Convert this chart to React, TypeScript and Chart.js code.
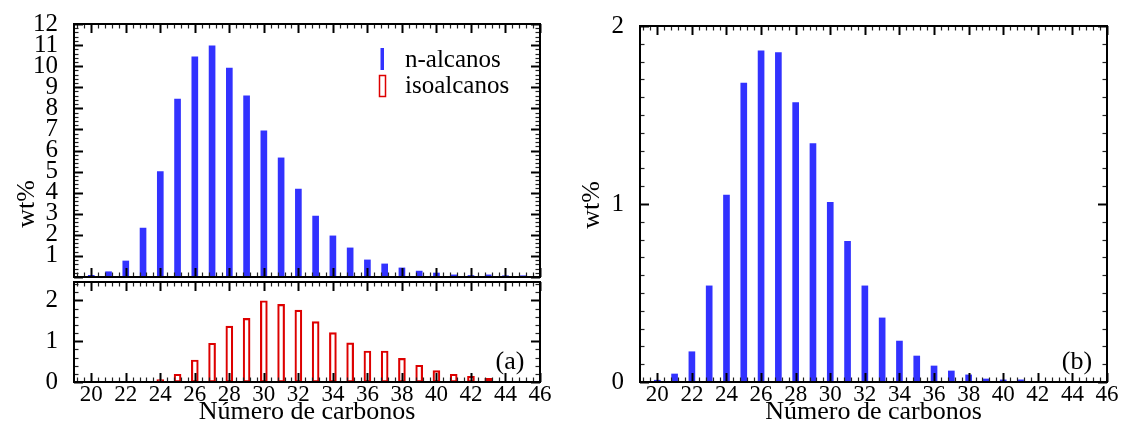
import React, { useEffect, useRef } from 'react';
import { Chart, registerables } from 'chart.js';

Chart.register(...registerables);

// ---------- data ----------
const carbons = [20, 21, 22, 23, 24, 25, 26, 27, 28, 29, 30, 31, 32, 33, 34, 35, 36, 37, 38, 39, 40, 41, 42, 43, 44, 45, 46];
const nAlcanosA = [0.08, 0.25, 0.76, 2.32, 5.0, 8.44, 10.44, 10.96, 9.91, 8.59, 6.93, 5.65, 4.17, 2.89, 1.95, 1.38, 0.81, 0.62, 0.43, 0.28, 0.19, 0.1, 0.07, 0.1, 0.06, 0.06, 0];
const isoAlcanosA = [0, 0, 0, 0, 0.06, 0.19, 0.54, 0.95, 1.37, 1.56, 1.99, 1.9, 1.76, 1.48, 1.21, 0.96, 0.76, 0.76, 0.58, 0.41, 0.28, 0.19, 0.14, 0.09, 0, 0, 0];
const nAlcanosB = [0.01, 0.045, 0.17, 0.54, 1.05, 1.68, 1.86, 1.85, 1.57, 1.34, 1.01, 0.79, 0.54, 0.36, 0.23, 0.146, 0.09, 0.062, 0.04, 0.017, 0.012, 0.012, 0, 0, 0, 0, 0];
const xTickLabels = [20, 22, 24, 26, 28, 30, 32, 34, 36, 38, 40, 42, 44, 46];
const yTicksTop = [1, 2, 3, 4, 5, 6, 7, 8, 9, 10, 11, 12];
const yTicksBottom = [0, 1, 2];
const yTicksRight = [0, 1, 2];
const legendLabels = ['n-alcanos', 'isoalcanos'];
const panelLabels = ['(a)', '(b)'];
const xTitle = 'Número de carbonos';
const yTitle = 'wt%';

// ---------- styles ----------
const FONT = '"Liberation Serif", "DejaVu Serif", serif';
const BLUE = '#3232ff';
const RED = '#dd0000';

type TickCfg = {
  xMinorStep: number;
  xMajors: number[];
  yMinorStep: number;
  yMajorStep: number;
  extra?: (ctx: CanvasRenderingContext2D, chart: any) => void;
};

function frameTicksPlugin(cfg: TickCfg) {
  return {
    id: 'frameTicks',
    afterDraw(chart: any) {
      const { ctx, chartArea: a, scales } = chart;
      const xs = scales.x;
      const ys = scales.y;
      ctx.save();
      ctx.strokeStyle = '#000';
      const seg = (x1: number, y1: number, x2: number, y2: number) => {
        ctx.beginPath();
        ctx.moveTo(x1, y1);
        ctx.lineTo(x2, y2);
        ctx.stroke();
      };
      const MAJ = 9;
      const MIN = 4.5;
      const x0 = xs.min;
      const x1 = xs.max;
      const anchor = cfg.xMajors[0];
      const startK = Math.ceil((x0 - anchor) / cfg.xMinorStep - 1e-6);
      for (let k = startK; anchor + k * cfg.xMinorStep <= x1 + 1e-6; k++) {
        const v = anchor + k * cfg.xMinorStep;
        const isMajor = cfg.xMajors.some((m) => Math.abs(m - v) < 1e-6);
        const px = Math.round(xs.getPixelForValue(v)) + 0.5;
        const len = isMajor ? MAJ : MIN;
        ctx.lineWidth = isMajor ? 2 : 1.2;
        ctx.strokeStyle = isMajor ? '#000' : '#222';
        seg(px, a.bottom, px, a.bottom - len);
        seg(px, a.top, px, a.top + len);
      }
      const y0 = ys.min;
      const y1 = ys.max;
      const n = Math.round((y1 - y0) / cfg.yMinorStep) + 1;
      for (let k = 0; k <= n; k++) {
        const v = Math.ceil(y0 / cfg.yMinorStep - 1e-6) * cfg.yMinorStep + k * cfg.yMinorStep;
        if (v > y1 + 1e-6) break;
        const r = v / cfg.yMajorStep;
        const isMajor = Math.abs(r - Math.round(r)) < 1e-6;
        const py = Math.round(ys.getPixelForValue(v)) + 0.5;
        const len = isMajor ? MAJ : MIN;
        ctx.lineWidth = isMajor ? 2 : 1.2;
        ctx.strokeStyle = isMajor ? '#000' : '#222';
        seg(a.left, py, a.left + len, py);
        seg(a.right, py, a.right - len, py);
      }
      ctx.lineWidth = 2;
      ctx.strokeStyle = '#000';
      ctx.strokeRect(a.left, a.top, a.right - a.left, a.bottom - a.top);
      if (cfg.extra) cfg.extra(ctx, chart);
      ctx.restore();
    },
  };
}

function drawRotated(ctx: CanvasRenderingContext2D, text: string, x: number, y: number, size: number) {
  ctx.save();
  ctx.translate(x, y);
  ctx.rotate(-Math.PI / 2);
  ctx.font = `${size}px ${FONT}`;
  ctx.fillStyle = '#000';
  ctx.textAlign = 'center';
  ctx.textBaseline = 'middle';
  ctx.fillText(text, 0, 0);
  ctx.restore();
}

function makeConfig(opts: {
  data: number[];
  filled: boolean;
  yMin: number;
  yMax: number;
  yTicks: number[];
  padding: { left: number; top: number; right: number; bottom: number };
  yWidth: number;
  xHeight: number;
  showX: boolean;
  plugin: any;
}) {
  const ds: any = opts.filled
    ? { data: carbons.map((c, i) => ({ x: c, y: opts.data[i] })), backgroundColor: BLUE, borderWidth: 0, barThickness: 6 }
    : {
        data: carbons.map((c, i) => ({ x: c, y: opts.data[i] })),
        backgroundColor: 'rgba(255,255,255,0)',
        borderColor: RED,
        borderWidth: 1.5,
        borderSkipped: false,
        barThickness: 7,
      };
  return {
    type: 'bar' as const,
    data: { datasets: [ds] },
    options: {
      responsive: false,
      animation: false,
      devicePixelRatio: 1,
      layout: { padding: opts.padding },
      plugins: { legend: { display: false }, tooltip: { enabled: false } },
      scales: {
        x: {
          type: 'linear',
          min: 19,
          max: 46,
          offset: false,
          grid: { display: false, drawTicks: false, offset: false },
          border: { display: false },
          ticks: {
            display: opts.showX,
            autoSkip: false,
            maxRotation: 0,
            padding: -1,
            color: '#000',
            font: { family: FONT, size: 23 },
          },
          title: opts.showX
            ? { display: true, text: xTitle, color: '#000', padding: 0, font: { family: FONT, size: 26 } }
            : { display: false },
          afterBuildTicks: (s: any) => {
            s.ticks = xTickLabels.map((v) => ({ value: v }));
          },
          afterFit: (s: any) => {
            s.height = opts.xHeight;
            s.paddingLeft = 0;
            s.paddingRight = 0;
            s.paddingTop = 0;
            s.paddingBottom = 0;
          },
        },
        y: {
          type: 'linear',
          min: opts.yMin,
          max: opts.yMax,
          grid: { display: false, drawTicks: false },
          border: { display: false },
          ticks: {
            autoSkip: false,
            padding: 16,
            color: '#000',
            font: { family: FONT, size: 25 },
          },
          afterBuildTicks: (s: any) => {
            s.ticks = opts.yTicks.map((v) => ({ value: v }));
          },
          afterFit: (s: any) => {
            s.width = opts.yWidth;
            s.paddingTop = 0;
            s.paddingBottom = 0;
            s.paddingLeft = 0;
            s.paddingRight = 0;
          },
        },
      },
    },
    plugins: [opts.plugin],
  };
}

export default function App() {
  const refA = useRef<HTMLCanvasElement>(null);
  const refB = useRef<HTMLCanvasElement>(null);
  const refC = useRef<HTMLCanvasElement>(null);

  useEffect(() => {
    const charts: Chart[] = [];

    const pluginA = frameTicksPlugin({
      xMinorStep: 0.4,
      xMajors: xTickLabels,
      yMinorStep: 0.2,
      yMajorStep: 1,
      extra: (ctx) => {
        drawRotated(ctx, yTitle, 27, 204, 26);
        ctx.fillStyle = BLUE;
        ctx.fillRect(380.5, 48, 3.5, 22);
        ctx.strokeStyle = RED;
        ctx.lineWidth = 1.5;
        ctx.strokeRect(379.5, 75.5, 6, 21);
        ctx.fillStyle = '#000';
        ctx.font = `25px ${FONT}`;
        ctx.textAlign = 'left';
        ctx.textBaseline = 'alphabetic';
        ctx.fillText(legendLabels[0], 405, 67);
        ctx.fillText(legendLabels[1], 405, 93);
      },
    });
    const pluginB = frameTicksPlugin({
      xMinorStep: 0.4,
      xMajors: xTickLabels,
      yMinorStep: 0.2,
      yMajorStep: 1,
      extra: (ctx) => {
        ctx.fillStyle = '#000';
        ctx.font = `26px ${FONT}`;
        ctx.textAlign = 'center';
        ctx.textBaseline = 'alphabetic';
        ctx.fillText(panelLabels[0], 510, 89);
      },
    });
    const pluginC = frameTicksPlugin({
      xMinorStep: 0.4,
      xMajors: xTickLabels,
      yMinorStep: 0.1,
      yMajorStep: 1,
      extra: (ctx) => {
        drawRotated(ctx, yTitle, 32, 205, 26);
        ctx.fillStyle = '#000';
        ctx.font = `26px ${FONT}`;
        ctx.textAlign = 'center';
        ctx.textBaseline = 'alphabetic';
        ctx.fillText(panelLabels[1], 517, 369);
      },
    });

    if (refA.current) {
      charts.push(
        new Chart(
          refA.current,
          makeConfig({
            data: nAlcanosA,
            filled: true,
            yMin: 0,
            yMax: 12,
            yTicks: yTicksTop,
            padding: { left: 0, top: 24, right: 20, bottom: 3 },
            yWidth: 74,
            xHeight: 0,
            showX: false,
            plugin: pluginA,
          }) as any
        )
      );
    }
    if (refB.current) {
      charts.push(
        new Chart(
          refB.current,
          makeConfig({
            data: isoAlcanosA,
            filled: false,
            yMin: 0,
            yMax: 2.45,
            yTicks: yTicksBottom,
            padding: { left: 0, top: 2, right: 20, bottom: 0 },
            yWidth: 74,
            xHeight: 46,
            showX: true,
            plugin: pluginB,
          }) as any
        )
      );
    }
    if (refC.current) {
      charts.push(
        new Chart(
          refC.current,
          makeConfig({
            data: nAlcanosB,
            filled: true,
            yMin: 0,
            yMax: 2,
            yTicks: yTicksRight,
            padding: { left: 0, top: 26, right: 14, bottom: 0 },
            yWidth: 80,
            xHeight: 46,
            showX: true,
            plugin: pluginC,
          }) as any
        )
      );
    }
    return () => {
      charts.forEach((c) => c.destroy());
    };
  }, []);

  return (
    <div style={{ position: 'absolute', left: 0, top: 0, width: 1121, height: 428, background: '#fff' }}>
      <canvas ref={refA} width={560} height={280} style={{ position: 'absolute', left: 0, top: 0 }} />
      <canvas ref={refB} width={560} height={148} style={{ position: 'absolute', left: 0, top: 280 }} />
      <canvas ref={refC} width={561} height={428} style={{ position: 'absolute', left: 560, top: 0 }} />
    </div>
  );
}
